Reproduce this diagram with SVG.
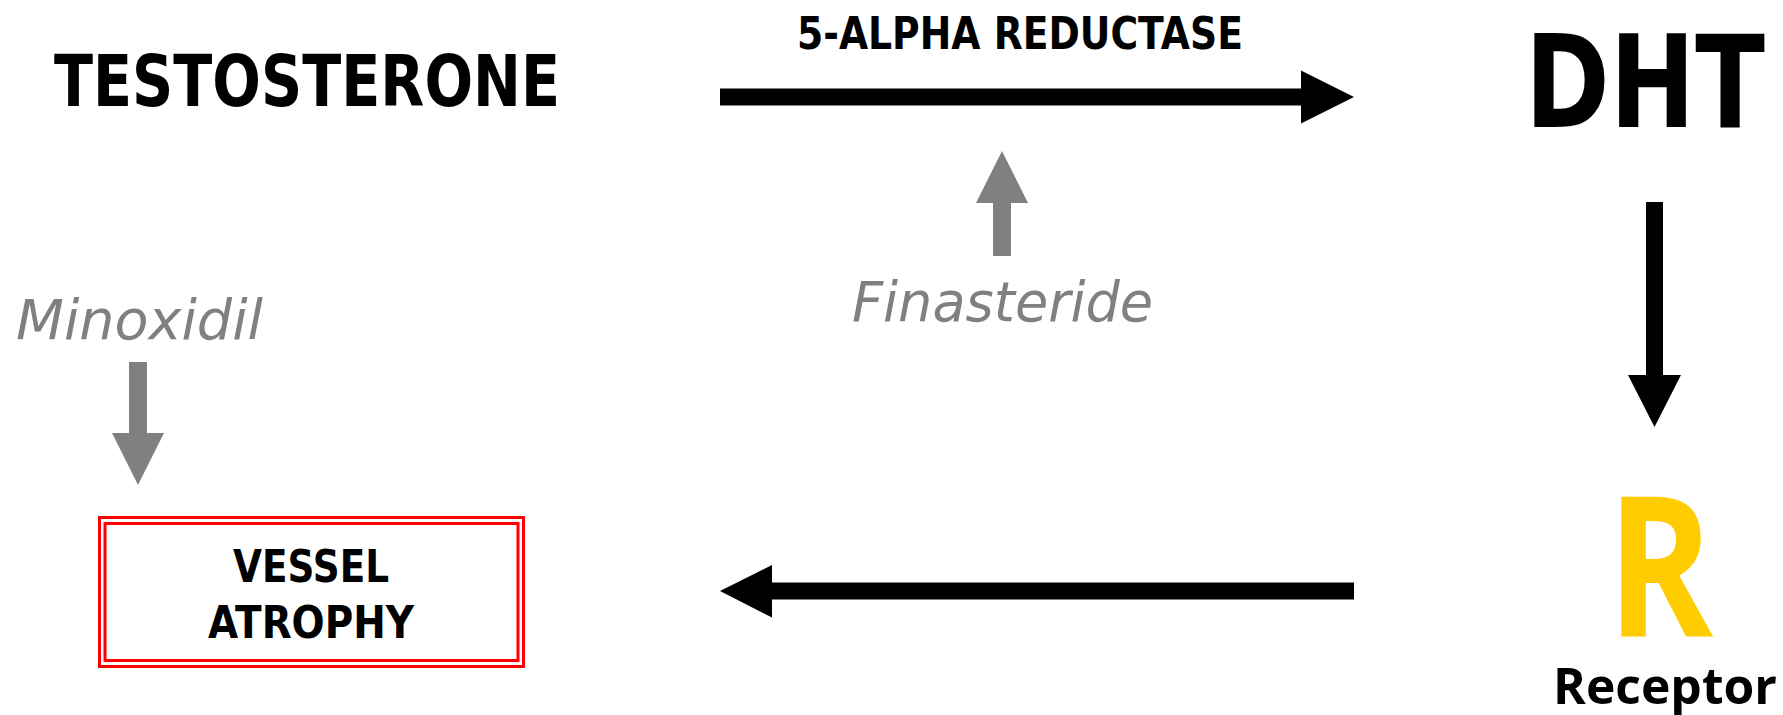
<svg xmlns="http://www.w3.org/2000/svg" width="1783" height="715" viewBox="0 0 1783 715">
<style>
.b{font-family:"DejaVu Sans","Liberation Sans",sans-serif;font-weight:bold;fill:#000}
.i{font-family:"DejaVu Sans","Liberation Sans",sans-serif;font-style:italic;fill:#808080}
.o{font-family:"Open Sans","Noto Sans",sans-serif;font-weight:bold}
.blk{fill:#000}
.gry{fill:#808080}
.box{fill:none;stroke:#ff0000;stroke-width:3}
</style>
<rect width="1783" height="715" fill="#fff"/>
<g id="testosterone"><text class="b" x="54" y="106" font-size="71" textLength="506" lengthAdjust="spacingAndGlyphs">TESTOSTERONE</text></g>
<g id="enzyme"><text class="b" x="797" y="49" font-size="44" textLength="446" lengthAdjust="spacingAndGlyphs">5-ALPHA REDUCTASE</text></g>
<g id="dht"><text class="b" x="1525" y="127" font-size="128" textLength="240" lengthAdjust="spacingAndGlyphs">DHT</text></g>
<g id="finasteride"><text class="i" x="852" y="321" font-size="55" textLength="301" lengthAdjust="spacingAndGlyphs">Finasteride</text></g>
<g id="minoxidil"><text class="i" x="16" y="339" font-size="55" textLength="247" lengthAdjust="spacingAndGlyphs">Minoxidil</text></g>
<g id="vessel-atrophy">
<rect class="box" x="99.5" y="517.5" width="424" height="149"/>
<rect class="box" x="105" y="523.5" width="413" height="137"/>
<text class="b" x="233" y="582" font-size="45" textLength="156" lengthAdjust="spacingAndGlyphs">VESSEL</text>
<text class="b" x="208" y="638" font-size="45" textLength="206" lengthAdjust="spacingAndGlyphs">ATROPHY</text>
</g>
<g id="receptor">
<text class="o" x="1607" y="637" font-size="196" fill="#ffcc00" textLength="106" lengthAdjust="spacingAndGlyphs">R</text>
<text class="o" x="1553" y="704" font-size="50" fill="#000" textLength="224" lengthAdjust="spacingAndGlyphs">Receptor</text>
</g>
<g id="connectors">
<polygon class="blk" points="720,88.5 1301,88.5 1301,70.5 1354,97 1301,123.5 1301,105.5 720,105.5"/>
<polygon class="blk" points="1646,202 1663,202 1663,375 1681,375 1654.5,427 1628,375 1646,375"/>
<polygon class="blk" points="1354,582.5 772,582.5 772,565 720,591 772,617.5 772,599.5 1354,599.5"/>
<polygon class="gry" points="993,256 1011,256 1011,203 1028,203 1002,151 976,203 993,203"/>
<polygon class="gry" points="129,362 147,362 147,433 164,433 138,485 112,433 129,433"/>
</g>
</svg>
